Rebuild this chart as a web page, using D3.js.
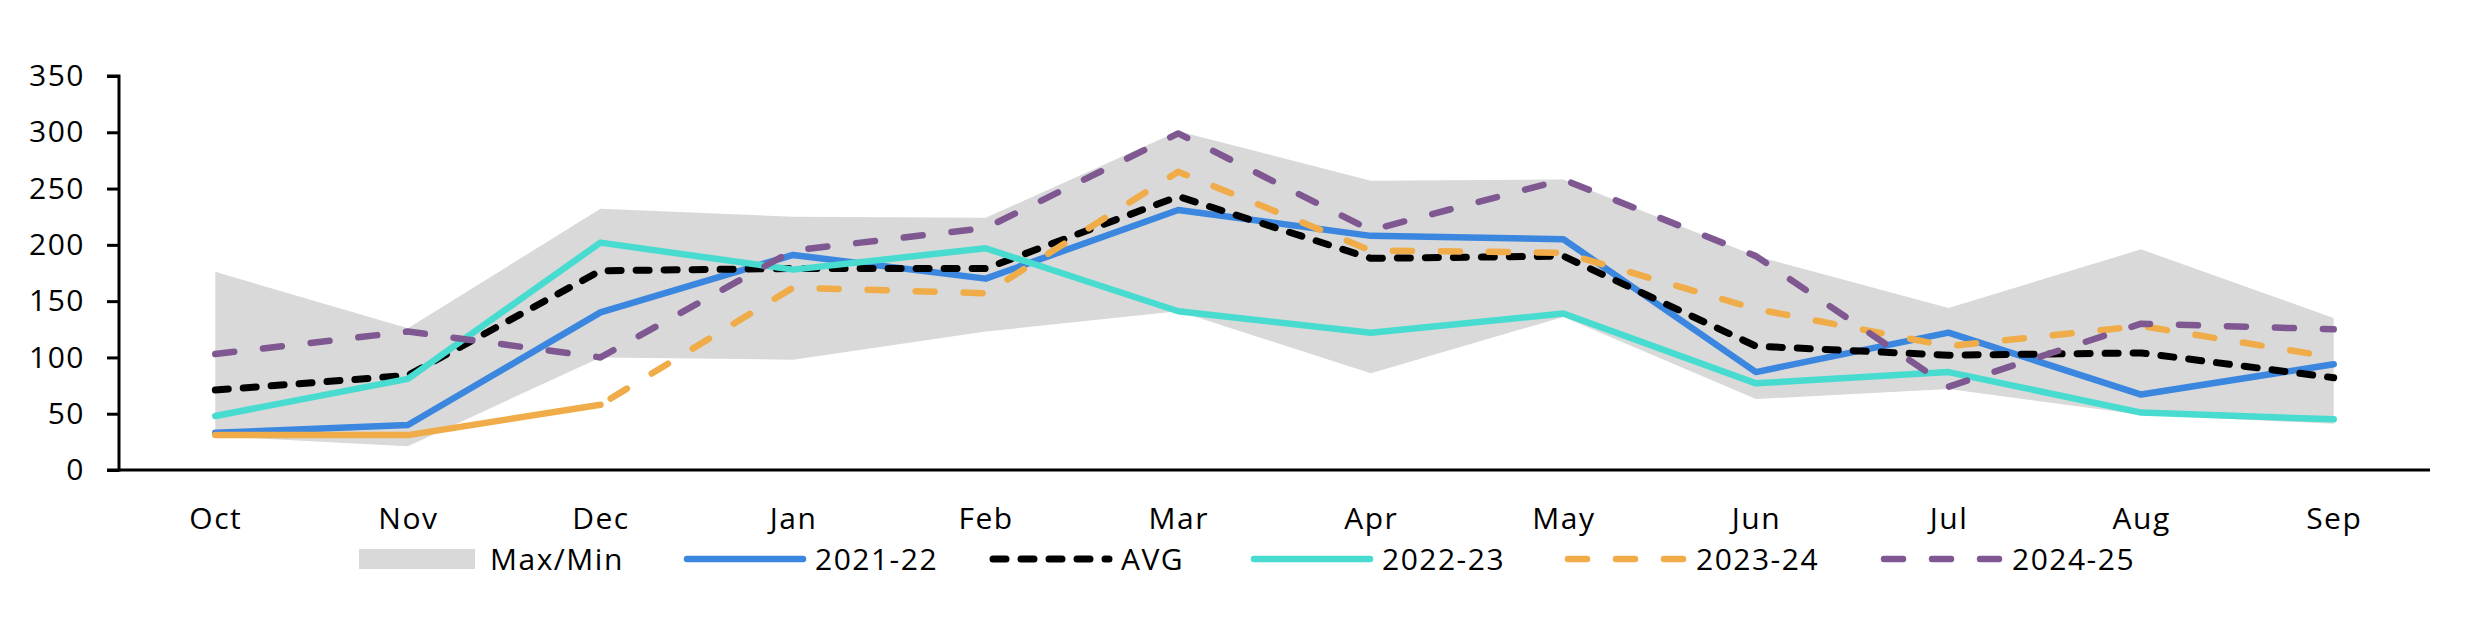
<!DOCTYPE html>
<html>
<head>
<meta charset="utf-8">
<script src="https://cdn.jsdelivr.net/npm/d3@7/dist/d3.min.js"></script>
<style>
  html, body { margin: 0; padding: 0; background: #fff; }
  svg { display: block; font-family: "Open Sans", "Lato", sans-serif; }
  svg text { letter-spacing: 1.5px; }
</style>
</head>
<body>
<svg id="chart" width="2481" height="623"></svg>
<script>
// ---- Data ----
const months = ["Oct", "Nov", "Dec", "Jan", "Feb", "Mar", "Apr", "May", "Jun", "Jul", "Aug", "Sep"];
const yTicks = [0, 50, 100, 150, 200, 250, 300, 350];

const rangeMax = [176, 126, 232, 225, 224, 301, 257, 258, 190, 144, 196, 135];
const rangeMin = [30, 21, 100, 98, 123, 141, 86, 136, 63, 72, 49, 41];

const s2021_22 = [33, 40, 140, 191, 170, 231, 208, 205, 87, 122, 67, 94];
const avg      = [71, 84, 177, 179, 179, 243, 188, 190, 110, 102, 104, 82];
const s2022_23 = [48, 81, 202, 178, 197, 141, 122, 139, 77, 87, 51, 45];
const s2023_24 = [31, 31, 58, 162, 157, 265, 195, 193, 143, 110, 128, 100];
const s2024_25 = [103, 123, 100, 195, 215, 299, 213, 258, 190, 74, 130, 125];

// ---- Layout ----
const svg = d3.select("#chart");
const plotLeft = 119, plotRight = 2430, plotTop = 76, plotBottom = 470;

const x = d3.scalePoint().domain(months).range([plotLeft, plotRight]).padding(0.5);
const y = d3.scaleLinear().domain([0, 350]).range([plotBottom, plotTop]);

const fontSize = 30;

// Range band
const area = d3.area()
  .x((d, i) => x(months[i]))
  .y0((d, i) => y(rangeMin[i]))
  .y1((d, i) => y(rangeMax[i]));
svg.append("path")
  .datum(rangeMax)
  .attr("d", area)
  .attr("fill", "#d9d9d9");

// Series
const series = [
  { name: "2021-22", values: s2021_22, color: "#3b86df", dash: null, width: 6.5 },
  { name: "AVG", values: avg, color: "#000000", dash: "13,15", width: 7 },
  { name: "2022-23", values: s2022_23, color: "#48dcd0", dash: null, width: 6.5 },
  { name: "2023-24", values: s2023_24, color: "#efac48", dash: "19,29", width: 6.5, solidThrough: 2 },
  { name: "2024-25", values: s2024_25, color: "#7f5892", dash: "19,29", width: 6.5 }
];

const line = d3.line()
  .x(d => x(d.m))
  .y(d => y(d.v));

series.forEach(s => {
  const pts = s.values.map((v, i) => ({ m: months[i], v }));
  if (s.solidThrough != null) {
    svg.append("path")
      .attr("d", line(pts.slice(0, s.solidThrough + 1)))
      .attr("fill", "none")
      .attr("stroke", s.color)
      .attr("stroke-width", s.width)
      .attr("stroke-linejoin", "round")
      .attr("stroke-linecap", "round");
    svg.append("path")
      .attr("d", line(pts.slice(s.solidThrough)))
      .attr("fill", "none")
      .attr("stroke", s.color)
      .attr("stroke-width", s.width)
      .attr("stroke-dasharray", s.dash)
      .attr("stroke-dashoffset", -12)
      .attr("stroke-linejoin", "round")
      .attr("stroke-linecap", "round");
  } else {
    svg.append("path")
      .attr("d", line(pts))
      .attr("fill", "none")
      .attr("stroke", s.color)
      .attr("stroke-width", s.width)
      .attr("stroke-dasharray", s.dash)
      .attr("stroke-linejoin", "round")
      .attr("stroke-linecap", "round");
  }
});

// Y axis
const yAxis = svg.append("g")
  .attr("transform", `translate(${plotLeft},0)`)
  .call(d3.axisLeft(y).tickValues(yTicks).tickSize(12).tickPadding(22).tickFormat(d3.format("d")));
yAxis.select(".domain").attr("stroke", "#000").attr("stroke-width", 3)
  .attr("d", `M-12,${plotTop}H0V${plotBottom + 1.5}`);
yAxis.selectAll(".tick line").attr("stroke", "#000").attr("stroke-width", 3);
yAxis.selectAll(".tick text")
  .attr("font-size", fontSize)
  .attr("font-family", "\"Open Sans\", sans-serif")
  .attr("fill", "#000");

// X axis
const xAxis = svg.append("g")
  .attr("transform", `translate(0,${plotBottom})`)
  .call(d3.axisBottom(x).tickSize(0).tickPadding(38));
xAxis.select(".domain").attr("stroke", "#000").attr("stroke-width", 3)
  .attr("d", `M${plotLeft - 12},0H${plotRight}`);
xAxis.selectAll(".tick text")
  .attr("font-size", fontSize)
  .attr("font-family", "\"Open Sans\", sans-serif")
  .attr("fill", "#000");

// Legend
const legendY = 559;
const legend = svg.append("g");
const items = [
  { name: "Max/Min", type: "box", color: "#d9d9d9" },
  ...series.map(s => ({ name: s.name, type: "line", color: s.color, dash: s.dash, width: s.width }))
];
const legendStarts = [359, 687, 993, 1254, 1568, 1884];
items.forEach((it, i) => {
  const g = legend.append("g").attr("transform", `translate(${legendStarts[i]},${legendY})`);
  if (it.type === "box") {
    g.append("rect").attr("x", 0).attr("y", -10).attr("width", 116).attr("height", 20).attr("fill", it.color);
    g.append("text").attr("x", 131).attr("y", 0).attr("dy", "0.35em")
      .attr("font-size", fontSize).attr("fill", "#000").text(it.name);
  } else {
    g.append("line").attr("x1", 0).attr("x2", 116).attr("y1", 0).attr("y2", 0)
      .attr("stroke", it.color).attr("stroke-width", it.width)
      .attr("stroke-dasharray", it.dash).attr("stroke-linecap", "round");
    g.append("text").attr("x", 128).attr("y", 0).attr("dy", "0.35em")
      .attr("font-size", fontSize).attr("fill", "#000").text(it.name);
  }
});
</script>
</body>
</html>
